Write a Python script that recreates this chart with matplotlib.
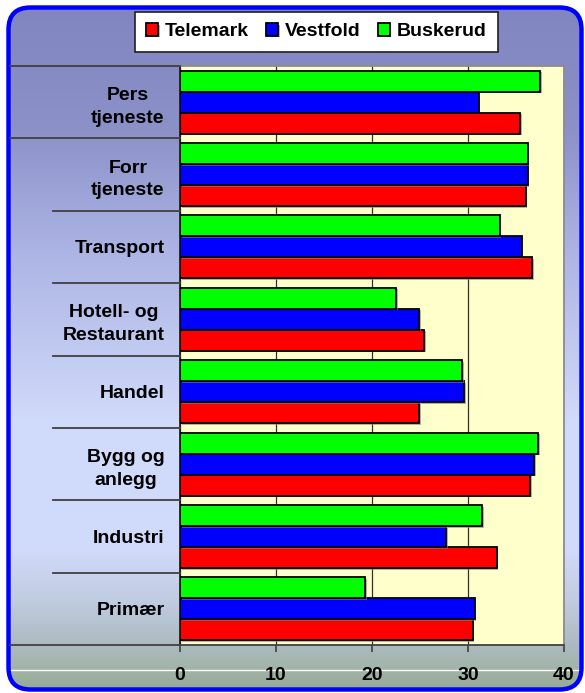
#import section
import numpy as np
import matplotlib
matplotlib.use("Agg")
import matplotlib.pyplot as plt
from matplotlib.patches import FancyBboxPatch
import matplotlib.transforms as mtransforms
import matplotlib.patheffects as pe

#data
categories = ["Primær", "Industri", "Bygg og\nanlegg", "Handel",
              "Hotell- og\nRestaurant", "Transport", "Forr\ntjeneste", "Pers\ntjeneste"]
telemark = [30.5, 33.0, 36.5, 24.9, 25.4, 36.7, 36.0, 35.4]
vestfold = [30.7, 27.7, 36.9, 29.6, 24.9, 35.6, 36.2, 31.1]
buskerud = [19.3, 31.5, 37.3, 29.4, 22.5, 33.3, 36.2, 37.5]
series_names = ["Telemark", "Vestfold", "Buskerud"]
xticks = [0, 10, 20, 30, 40]

plt.rcParams['font.family'] = ['Liberation Sans', 'DejaVu Sans']
plt.rcParams['font.weight'] = 'bold'
FS = 14

W, H = 585, 693
fig = plt.figure(figsize=(W / 100, H / 100), dpi=100)
fig.patch.set_facecolor("white")

#background in pixel units
bg = fig.add_axes([0, 0, 1, 1], zorder=-10)
bg.set_xlim(0, W)
bg.set_ylim(H, 0)
bg.axis("off")
stops_y = [0, 130, 250, 420, 550, 600, 644, 668, 693]
stops_c = np.array([[128, 132, 192], [140, 145, 200], [172, 180, 228], [208, 218, 250],
                    [208, 218, 250], [192, 204, 224], [172, 186, 192], [162, 180, 168],
                    [148, 168, 142]]) / 255.0
yy = np.arange(H)
grad = np.stack([np.interp(yy, stops_y, stops_c[:, k]) for k in range(3)], axis=1)
grad = grad[:, None, :]
img = bg.imshow(grad, extent=(0, W, H, 0), aspect="auto", zorder=0)
frame = FancyBboxPatch((8.5, 7.5), 573, 682, boxstyle="round,pad=0,rounding_size=22",
                       facecolor="none", edgecolor="#0000ff", linewidth=3.2, zorder=5)
bg.add_patch(frame)
img.set_clip_path(frame)
#white line near bottom
bg.plot([10, 581], [670, 670], color="white", linewidth=1.0, zorder=1)

#main chart
ax = fig.add_axes([180 / W, 1 - 645 / H, (564 - 180) / W, (645 - 66) / H])
ax.set_facecolor("#ffffcc")
y = np.arange(len(categories))
h = 0.29
colors = ["#ff0000", "#0000ff", "#00ff00"]
shadow = [pe.SimplePatchShadow(offset=(1.2, -1.2), shadow_rgbFace="gray", alpha=0.6), pe.Normal()]
for i, (vals, c, name) in enumerate(zip([telemark, vestfold, buskerud], colors, series_names)):
    bars = ax.barh(y + (i - 1) * h, vals, height=h, color=c, edgecolor="black",
                   linewidth=1.3, label=name, zorder=3)
    for b in bars:
        b.set_path_effects(shadow)

ax.set_xlim(0, 40)
ax.set_ylim(-0.5, len(categories) - 0.5)
ax.set_xticks(xticks)
ax.set_xticklabels([str(t) for t in xticks], fontsize=FS, fontweight="bold")
ax.tick_params(axis="x", direction="out", length=5, width=1.2, color="#404040", pad=11)
ax.set_yticks(y)
ax.set_yticklabels(categories, fontsize=FS, fontweight="bold", multialignment="center",
                   linespacing=1.45)
ax.tick_params(axis="y", length=0, pad=11)
ax.xaxis.grid(True, color="#303030", linewidth=0.9, zorder=0)
ax.set_axisbelow(True)
for s in ["top", "right"]:
    ax.spines[s].set_color("#8c8c8c")
    ax.spines[s].set_linewidth(1.3)
ax.spines["left"].set_color("#202020")
ax.spines["left"].set_linewidth(1.3)
ax.spines["bottom"].set_color("#404040")
ax.spines["bottom"].set_linewidth(1.3)

#category separators reaching into label area
tr = mtransforms.blended_transform_factory(fig.transFigure, ax.transData)
for k in range(len(categories) + 1):
    yb = k - 0.5
    x0 = 10 if k in (0, len(categories) - 1, len(categories)) else 53
    ax.plot([x0 / W, 180 / W], [yb, yb], transform=tr, color="#404040",
            linewidth=1.3, clip_on=False, zorder=4)

#legend
handles, labels = ax.get_legend_handles_labels()
leg = fig.legend(handles, labels, loc="center", bbox_to_anchor=(0.541, 0.954), ncol=3,
                 fontsize=FS, frameon=True, fancybox=False, framealpha=1,
                 handlelength=0.6, handleheight=0.6, handletextpad=0.35,
                 columnspacing=0.9, borderpad=0.6, borderaxespad=0)
leg.get_frame().set_edgecolor("#202020")
leg.get_frame().set_linewidth(1.2)
for t in leg.get_texts():
    t.set_fontweight("bold")

plt.savefig("out.png", dpi=100)
